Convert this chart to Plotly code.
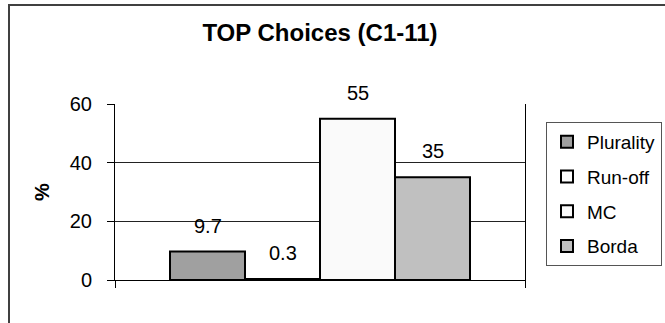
import plotly.graph_objects as go

# Share of top choices per voting method
methods = ["Plurality", "Run-off", "MC", "Borda"]
percent = [9.7, 0.3, 55, 35]
fills = ["#a0a0a0", "#ffffff", "#fafafa", "#c0c0c0"]
y_ticks = [0, 20, 40, 60]

FONT = "Arial, Liberation Sans, sans-serif"

# plot-area geometry in pixels
W, H = 665, 323
L, R, T, B = 115, 525, 104, 280
BAR_PX = 75
pw, ph = R - L, B - T
half_span = pw / BAR_PX / 2
center = (len(methods) - 1) / 2
x_range = [center - half_span, center + half_span]

fig = go.Figure()
for i, (name, val, col) in enumerate(zip(methods, percent, fills)):
    fig.add_trace(go.Bar(
        x=[i], y=[val], width=1, name=name,
        marker=dict(color=col, line=dict(color="#000000", width=2)),
        legendgroup=name,
    ))
    fig.add_annotation(
        x=i, y=val, xref="x", yref="y", text=f"{val:g}",
        showarrow=False, yanchor="bottom", yshift=13,
        font=dict(family=FONT, size=20, color="#000000"),
    )

fig.update_layout(
    width=W, height=H,
    margin=dict(l=L, r=W - R, t=T, b=H - B, autoexpand=False),
    paper_bgcolor="#ffffff", plot_bgcolor="#ffffff",
    barmode="overlay",
    font=dict(family=FONT, size=19, color="#000000"),
    title=dict(
        text="<b>TOP Choices (C1-11)</b>",
        x=(L + pw / 2) / W, xanchor="center",
        y=1 - 33 / H, yanchor="middle",
        font=dict(family=FONT, size=24, color="#000000"),
    ),
    showlegend=True,
    legend=dict(
        x=(546 - L) / pw, xanchor="left",
        y=(B - 122) / ph, yanchor="top",
        bordercolor="#555555", borderwidth=1, bgcolor="#ffffff",
        font=dict(family=FONT, size=19, color="#000000"),
        traceorder="grouped", tracegroupgap=7,
        itemwidth=30,
    ),
    xaxis=dict(
        range=x_range, showgrid=False, zeroline=False,
        showline=True, linecolor="#000000", linewidth=1,
        tickmode="array", tickvals=x_range, showticklabels=False,
        ticks="outside", ticklen=7, tickcolor="#000000",
    ),
    yaxis=dict(
        range=[0, 60], tickvals=y_ticks,
        showgrid=True, gridcolor="#222222", gridwidth=1,
        zeroline=False, showline=True, linecolor="#000000", linewidth=1,
        mirror=True,
        ticks="outside", ticklen=7, tickcolor="#000000",
        ticklabelstandoff=11,
        tickfont=dict(family=FONT, size=20),
        title=dict(text="<b>%</b>", standoff=14,
                   font=dict(family=FONT, size=20)),
    ),
    shapes=[dict(
        type="rect", xref="paper", yref="paper",
        x0=(9 - L) / pw, x1=(W + 20 - L) / pw,
        y0=(B - (H + 20)) / ph, y1=(B - 5) / ph,
        line=dict(color="#404040", width=2), fillcolor="rgba(0,0,0,0)",
        layer="below",
    )],
)

fig.write_html("out.html")
